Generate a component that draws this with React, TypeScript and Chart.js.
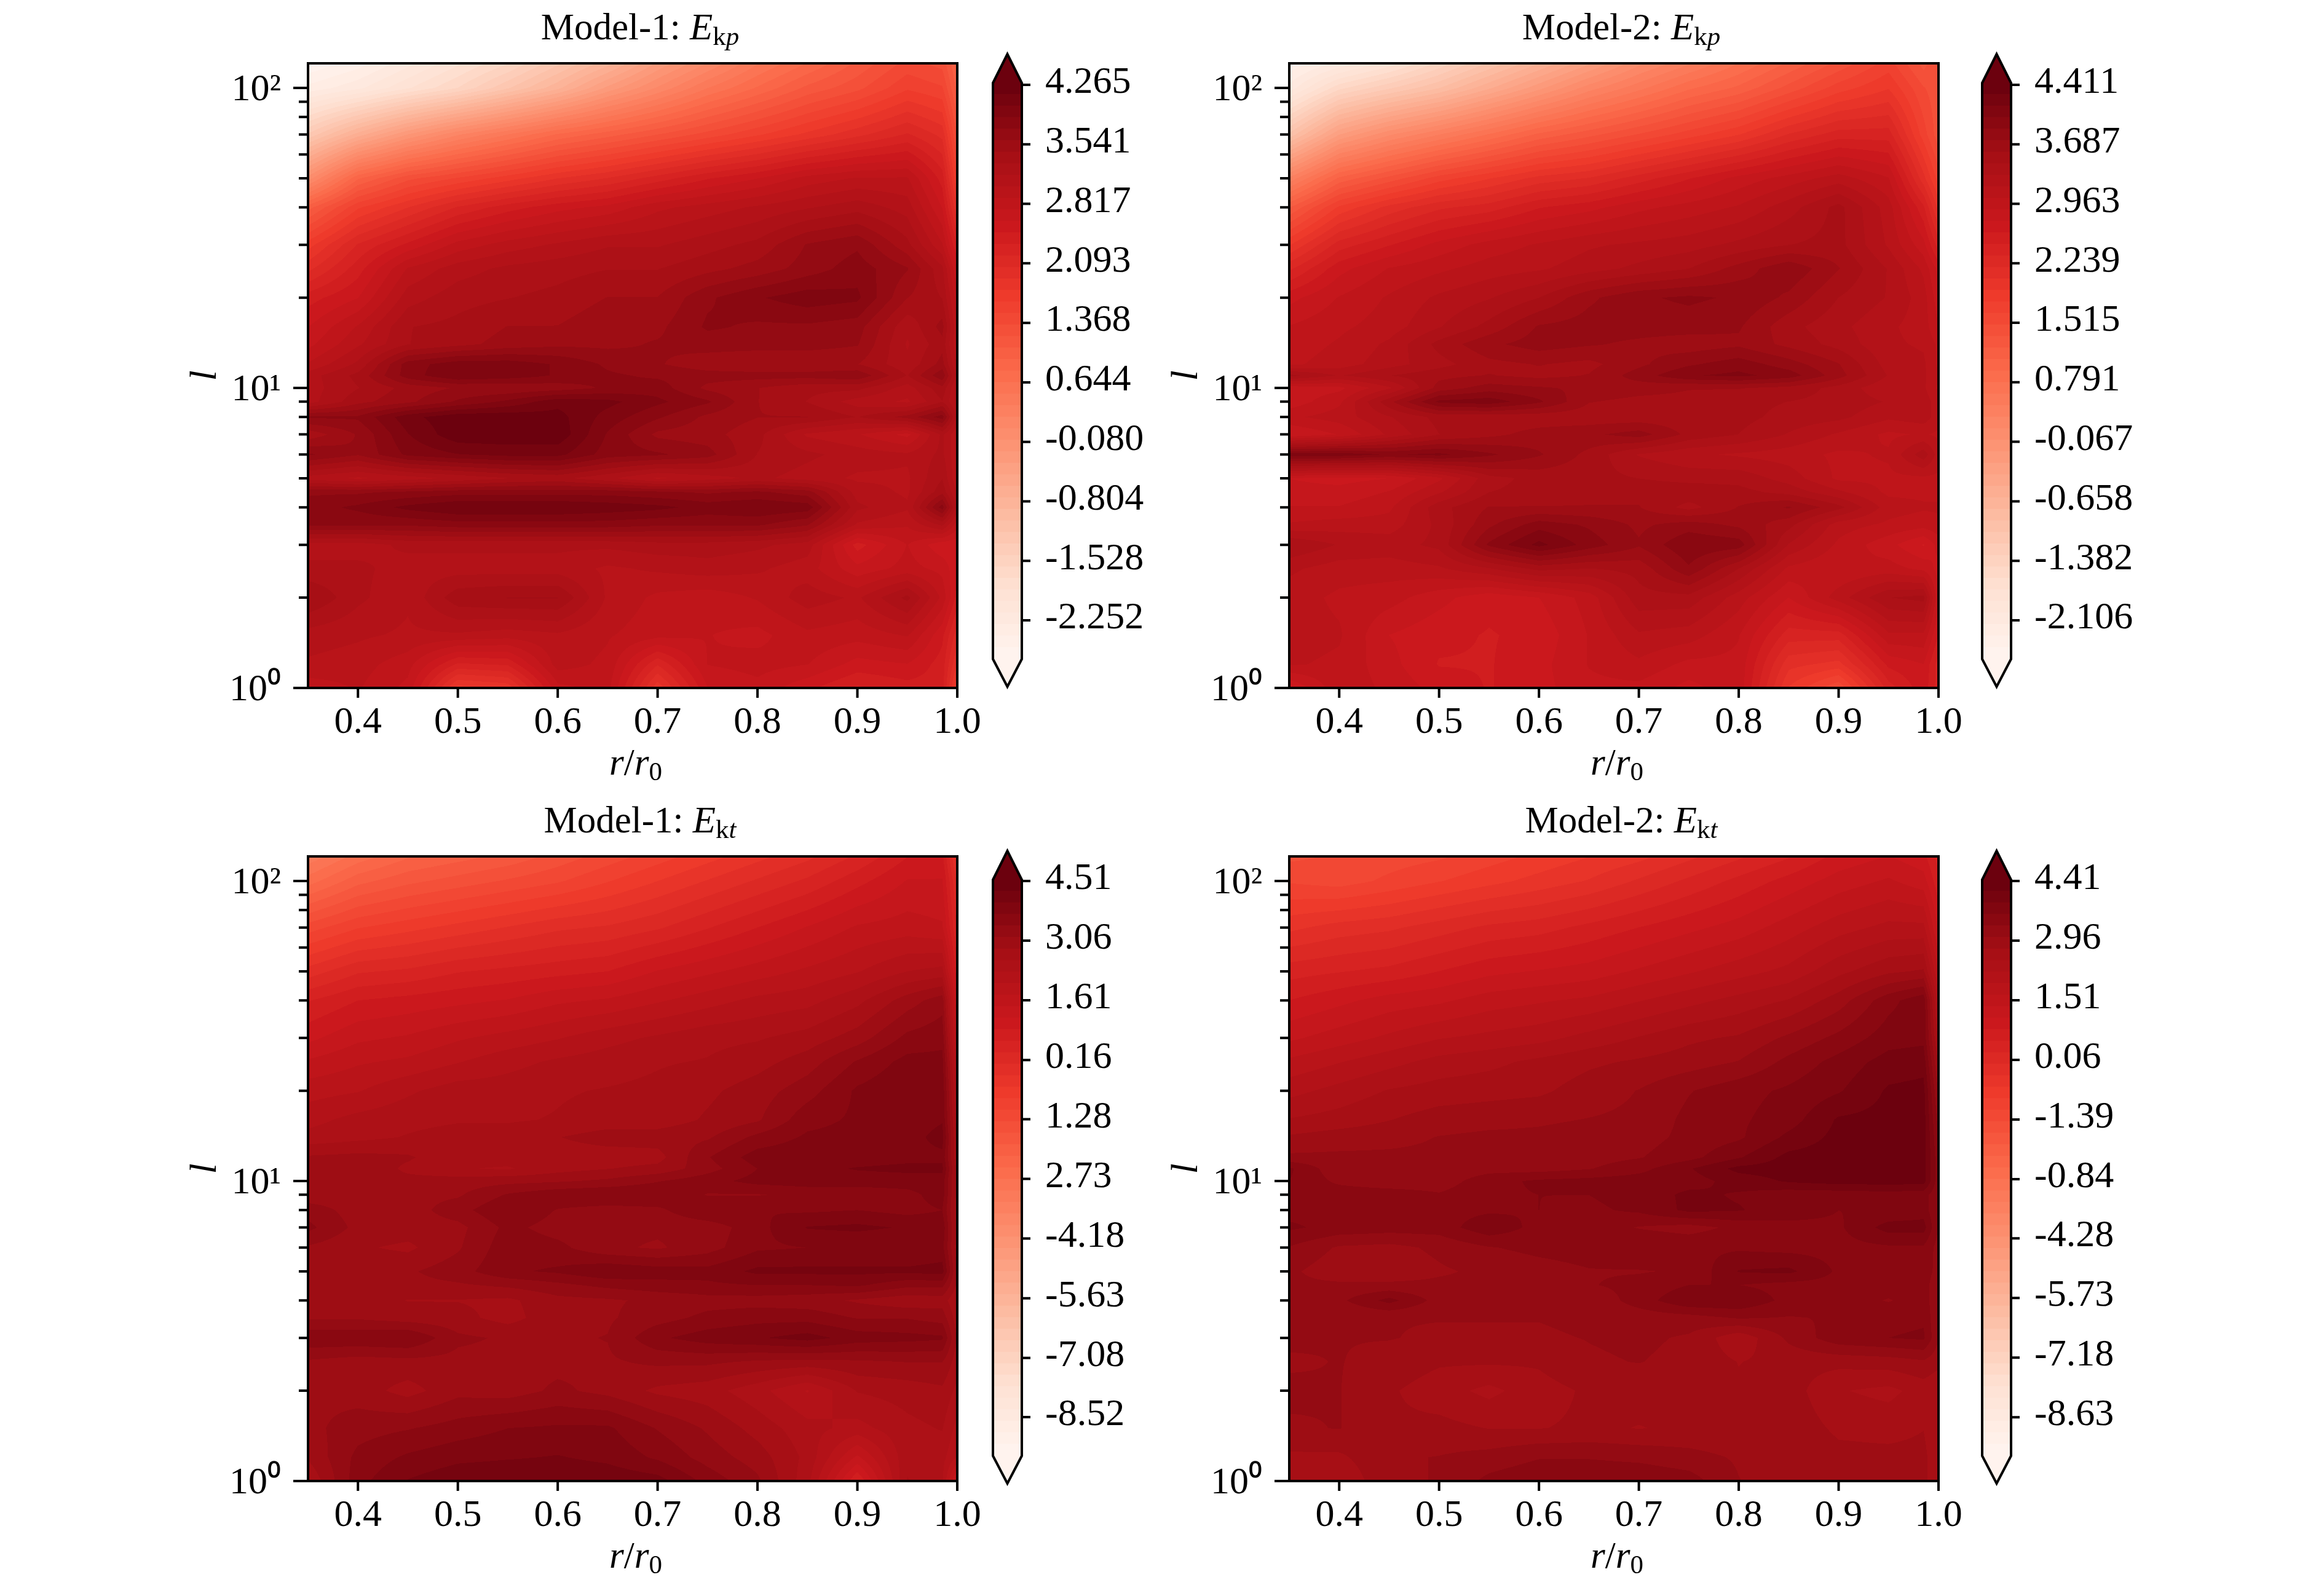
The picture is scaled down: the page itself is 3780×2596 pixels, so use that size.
import React, { useEffect, useRef } from "react";
import { Chart, registerables } from "chart.js";

Chart.register(...registerables);

const FONT = '"Liberation Serif"';
const R_GRID = [0.35, 0.4, 0.45, 0.5, 0.55, 0.6, 0.65, 0.7, 0.75, 0.8, 0.85, 0.9, 0.95, 0.985, 1.0];
const L_GRID = [120, 100, 70, 50, 40, 30, 25, 20, 16, 14, 12, 11, 10, 9, 8, 7, 6, 5, 4.5, 4, 3.5, 3, 2.5, 2, 1.5, 1.2, 1];
const R_TICKS = [0.4, 0.5, 0.6, 0.7, 0.8, 0.9, 1.0];
const L_MAJOR = [1, 10, 100];
const L_MINOR = [2, 3, 4, 5, 6, 7, 8, 9, 20, 30, 40, 50, 60, 70, 80, 90];
const L_LABELS: Record<number, string> = { 1: "10\u2070", 10: "10\u00B9", 100: "10\u00B2" };

const M1_KP = [
  [-2.7,-2.5,-2.2,-1.9,-1.6,-1.2,-.8,-.3,.1,.5,.8,1.1,1.4,1.3,.9],
  [-2.4,-2.2,-1.9,-1.6,-1.2,-.8,-.3,.1,.5,.8,1.1,1.3,1.6,1.5,1.0],
  [-1.3,-.7,-.2,.2,.5,.8,1,1.2,1.4,1.6,1.8,2,2.2,2.0,1.3],
  [0,.9,1.3,1.5,1.7,1.9,2.05,2.25,2.45,2.6,2.8,2.9,2.9,2.4,1.6],
  [1,1.6,1.9,2.2,2.4,2.55,2.65,2.85,2.95,3.05,3.15,3.25,3.1,2.6,1.9],
  [1.7,2.2,2.5,2.8,2.95,3.05,3.15,3.15,3.25,3.35,3.6,3.7,3.35,2.9,2.3],
  [2,2.4,2.9,3.1,3.2,3.25,3.3,3.3,3.4,3.5,3.65,3.8,3.6,3.2,2.6],
  [2.4,2.6,3.1,3.25,3.3,3.35,3.45,3.45,3.7,3.85,3.95,3.9,3.45,3.3,2.8],
  [2.6,2.9,3.3,3.35,3.45,3.45,3.55,3.55,3.75,3.7,3.7,3.65,3.2,3.5,2.9],
  [2.7,3,3.3,3.4,3.5,3.55,3.55,3.6,3.65,3.65,3.65,3.6,3.15,3.4,2.9],
  [2.9,3.2,3.8,3.95,3.95,3.85,3.7,3.6,3.5,3.45,3.45,3.45,3.2,3.5,3],
  [3.1,3.35,3.8,4.0,3.95,3.85,3.75,3.7,3.65,3.65,3.65,3.7,3.3,3.7,3.1],
  [3.1,3.3,3.5,3.6,3.6,3.65,3.75,3.8,3.55,3.45,3.35,3.35,3.1,3.4,3],
  [3.1,3.4,3.55,3.75,3.9,4.1,4.05,3.9,3.75,3.45,3.3,3.1,3,3.3,3],
  [3.75,3.75,4.1,4.25,4.25,4.2,3.95,3.75,3.55,3.45,3.45,3.3,3.5,3.8,3.1],
  [3.35,3.6,4,4.25,4.25,4.25,3.85,3.55,3.5,3.35,3,2.9,2.7,3.2,2.9],
  [3.75,3.6,3.9,4.0,4.05,4.05,3.8,3.75,3.65,3.3,3.2,3.1,3.05,3.2,2.9],
  [3.1,3,3.1,3.2,3.3,3.35,3.2,3,3.1,3.2,3.1,3,3,3.3,2.9],
  [3.7,3.7,3.75,3.8,3.8,3.8,3.8,3.75,3.7,3.75,3.65,3.1,3,3.4,3],
  [3.8,3.9,4.05,4.15,4.15,4.15,4.1,4.05,3.95,4,3.95,3.2,3.05,3.8,3.1],
  [3.75,3.75,3.75,3.8,3.8,3.8,3.8,3.75,3.75,3.75,3.6,3,2.9,3.2,2.8],
  [3.1,3.1,3.2,3.2,3.2,3.2,3.2,3.25,3.25,3.2,3.1,2.4,2.75,2.5,2.5],
  [3.2,3.2,3.1,3.1,3.1,3.1,3,3.05,3.1,3.05,2.95,2.65,2.8,2.7,2.5],
  [3.45,3.2,3.05,3.4,3.45,3.45,3,2.85,2.8,2.9,3.1,3,3.35,2.85,2.4],
  [3.1,3.05,3,3,2.95,3,2.9,2.8,2.75,2.7,2.85,2.8,2.9,2.5,2.1],
  [3,2.95,2.8,2.3,2.35,2.95,2.85,2.2,2.75,2.8,2.75,2.55,2.6,2.4,1.9],
  [2.8,2.9,2.7,1.7,1.8,2.7,2.8,1.8,2.6,2.7,2.5,2.3,2.4,2.4,1.6],
];

const M2_KP = [
  [-2.4,-2.1,-1.8,-1.4,-1.0,-.6,-.2,.2,.5,.8,1.1,1.4,1.7,1.3,1.5],
  [-2.1,-1.5,-1.2,-.9,-.5,-.1,.3,.6,.9,1.1,1.4,1.7,1.9,1.5,1.4],
  [-1.0,-.2,.2,.5,.8,1.1,1.3,1.5,1.7,1.9,2.2,2.4,2.4,1.7,1.4],
  [.4,1.1,1.4,1.7,1.9,2.1,2.2,2.4,2.6,2.8,2.95,3.1,2.9,2.1,1.7],
  [1.2,1.8,2.1,2.3,2.4,2.6,2.7,2.85,2.95,3.05,3.25,3.5,3.1,2.5,2.0],
  [1.9,2.4,2.6,2.8,2.95,3.05,3.15,3.2,3.25,3.35,3.45,3.5,3.15,2.8,2.4],
  [2.3,2.7,2.9,3.0,3.1,3.15,3.25,3.35,3.45,3.65,3.85,3.6,3.3,3.0,2.7],
  [2.7,2.9,3.05,3.2,3.3,3.45,3.7,3.85,3.9,3.85,3.7,3.45,3.3,3.1,2.8],
  [2.9,3.0,3.1,3.3,3.5,3.75,3.8,3.8,3.8,3.75,3.5,3.35,3.2,3.1,2.9],
  [2.95,3.05,3.2,3.5,3.7,3.8,3.75,3.7,3.65,3.7,3.55,3.4,3.2,3.15,3],
  [3.0,3.1,3.25,3.4,3.55,3.6,3.55,3.7,3.85,3.95,3.8,3.6,3.25,3.2,3],
  [3.5,3.3,3.45,3.55,3.6,3.55,3.6,3.8,4.0,4.05,3.95,3.65,3.3,3.2,3.05],
  [2.8,2.85,3.15,3.65,3.8,3.75,3.7,3.65,3.6,3.6,3.55,3.4,3.2,3.2,3.0],
  [2.8,3.0,3.55,4.05,4.1,3.9,3.6,3.55,3.55,3.5,3.45,3.4,3.3,3.25,3.1],
  [3.0,3.1,3.3,3.5,3.5,3.5,3.5,3.5,3.5,3.5,3.4,3.35,3.2,3.25,3.1],
  [2.75,2.9,3.2,3.45,3.55,3.65,3.7,3.8,3.55,3.45,3.3,3.15,3.0,3.05,3.0],
  [4.1,4.1,4.0,4.05,3.9,3.75,3.55,3.3,3.2,3.15,3.1,3.0,3.05,3.4,3.1],
  [2.75,2.7,2.75,3.0,3.4,3.5,3.5,3.45,3.4,3.4,3.25,3.0,3.0,3.0,3.0],
  [2.8,2.8,2.9,3.15,3.45,3.5,3.55,3.55,3.55,3.5,3.4,3.2,3.0,3.0,3.0],
  [2.9,2.9,3.0,3.4,3.6,3.6,3.6,3.6,3.4,3.6,3.75,3.5,3.1,3.05,3.05],
  [3.05,3.1,3.1,3.35,3.7,3.95,3.85,3.7,3.8,3.7,3.5,3.1,3.0,2.95,3.0],
  [3.45,3.3,3.25,3.35,3.9,4.2,3.95,3.75,4.0,3.95,3.3,3.0,2.8,2.6,2.8],
  [3.2,3.1,3.1,3.15,3.3,3.5,3.45,3.5,3.85,3.45,3.0,2.9,2.95,2.85,2.7],
  [3.1,3.0,2.95,2.8,2.65,2.75,2.95,3.4,3.4,3.1,2.75,3.1,3.45,3.5,2.75],
  [3.1,3.05,2.75,2.65,2.6,2.65,2.9,3.15,3.1,2.9,2.4,2.4,3.0,3.0,2.6],
  [3.05,3.0,2.8,2.6,2.6,2.7,2.9,3.0,2.85,2.85,2.1,2.0,2.65,2.75,2.4],
  [2.6,3.0,2.85,2.7,2.6,2.7,2.85,2.85,2.7,2.85,1.9,1.5,2.4,2.7,2.4],
];

const M1_KT = [
  [-3.2,-2.6,-2.2,-2.0,-1.8,-1.5,-1.2,-.9,-.6,-.3,0,.4,.9,1.0,-.4],
  [-2.6,-2.0,-1.7,-1.5,-1.3,-1.1,-.8,-.5,-.2,.1,.4,.8,1.2,1.2,0],
  [-1.2,-.8,-.6,-.4,-.2,0,.1,.3,.6,.9,1.2,1.5,1.6,1.5,.3],
  [-.1,.3,.4,.6,.7,.8,.9,1.2,1.4,1.6,1.8,2.0,2.3,2.4,.7],
  [.6,.9,1.0,1.1,1.2,1.4,1.5,1.7,1.9,2.1,2.2,2.5,3.0,3.3,1.2],
  [1.1,1.4,1.5,1.7,1.85,2.0,2.2,2.35,2.5,2.55,2.7,3.0,3.5,3.6,1.6],
  [1.5,1.7,1.8,2.0,2.2,2.35,2.45,2.55,2.6,2.75,3.0,3.45,3.8,3.8,1.9],
  [1.9,2.0,2.25,2.45,2.45,2.55,2.6,2.65,2.8,3.0,3.3,3.75,3.95,3.9,2.2],
  [2.2,2.4,2.5,2.55,2.55,2.6,2.7,2.7,2.9,3.1,3.6,3.75,3.8,3.95,2.4],
  [2.4,2.5,2.6,2.7,2.7,2.85,3.0,3.0,3.1,3.5,3.75,3.8,3.85,4.1,2.5],
  [2.9,2.95,2.9,2.65,2.7,2.7,2.7,2.75,3.4,3.85,3.9,3.85,3.9,3.9,2.6],
  [3.05,3.1,2.8,2.6,2.55,2.75,2.85,2.95,3.3,3.7,3.9,4.0,4.05,4.05,2.7],
  [2.9,2.9,2.95,3.0,3.05,3.1,3.2,3.4,3.6,3.8,3.85,3.85,3.85,3.85,2.7],
  [2.95,3.0,3.05,3.1,3.45,3.65,3.7,3.7,3.4,3.4,3.5,3.5,3.6,3.85,2.7],
  [3.3,3.0,3.0,3.3,3.7,3.4,3.3,3.35,3.7,3.7,3.65,3.7,3.6,3.7,2.7],
  [3.5,3.05,3.0,3.05,3.5,3.3,3.2,3.2,3.25,3.6,4.0,4.05,3.95,3.9,2.7],
  [3.1,2.9,2.8,3.1,3.6,3.5,3.2,3.1,3.3,3.65,3.7,3.7,3.7,3.8,2.7],
  [3.05,3.1,3.1,3.3,3.65,3.75,3.95,3.85,3.8,4.05,4.05,4.05,4.05,4.1,2.8],
  [3.0,3.05,3.05,3.1,3.2,3.35,3.5,3.6,3.65,3.7,3.7,3.75,3.5,3.5,2.8],
  [3.05,3.0,2.85,2.85,2.8,3.05,3.1,3.2,3.3,3.3,3.25,3.1,2.95,3.0,2.6],
  [3.1,3.1,3.0,2.95,2.75,3.05,3.1,3.3,3.5,3.6,3.6,3.4,3.4,3.3,2.7],
  [3.65,3.65,3.7,3.2,3.1,3.1,3.15,3.65,3.85,3.95,4.1,3.85,3.8,3.75,2.8],
  [3.1,3.0,3.05,3.05,3.05,3.05,3.1,3.2,3.2,3.1,3.05,3.1,3.15,3.15,2.7],
  [3.1,3.0,2.75,3.05,3.0,3.2,3.05,2.8,2.7,2.4,2.0,2.6,2.7,2.8,2.5],
  [3.05,3.3,3.4,3.55,3.7,3.75,3.75,3.4,3.1,2.75,2.4,2.2,2.5,2.6,2.2],
  [2.9,3.5,3.75,3.9,3.95,4.0,3.9,3.65,3.3,3.0,2.5,1.4,2.5,2.4,2.0],
  [2.6,3.6,4.0,4.2,4.25,4.25,4.2,4.1,3.6,3.2,2.4,.6,2.6,2.35,1.0],
];

const M2_KT = [
  [-1.5,-1.4,-1.3,-1.2,-1.0,-.8,-.6,-.4,-.1,.2,.5,.9,1.1,.9,.4],
  [-1.2,-1.3,-1.1,-.9,-.7,-.5,-.3,0,.3,.6,.9,1.2,1.4,1.2,.6],
  [-.4,-.2,-.1,.1,.3,.4,.6,.8,1,1.2,1.5,1.8,2.0,2.0,1.0],
  [.4,.5,.6,.8,1,1.1,1.2,1.4,1.6,1.8,2.0,2.4,2.7,2.8,1.6],
  [.8,1.0,1.2,1.3,1.5,1.6,1.7,1.9,2.1,2.3,2.5,2.9,3.5,3.8,2.0],
  [1.3,1.5,1.7,1.9,2.0,2.1,2.3,2.5,2.7,2.8,3.1,3.4,3.75,3.8,2.4],
  [1.7,1.9,2.1,2.3,2.4,2.55,2.7,2.8,2.9,3.05,3.4,3.7,4.0,4.05,2.7],
  [2.1,2.3,2.5,2.6,2.65,2.7,2.9,3.05,3.3,3.5,3.65,3.85,4.2,4.25,3.0],
  [2.5,2.6,2.75,2.9,2.95,3.0,3.05,3.1,3.4,3.55,3.75,4.2,4.25,4.3,3.2],
  [2.8,2.9,2.95,3.05,3.1,3.1,3.15,3.2,3.4,3.55,3.95,4.25,4.25,4.3,3.3],
  [3.1,3.1,3.1,3.1,3.15,3.2,3.2,3.3,3.5,3.85,4.25,4.3,4.3,4.3,3.4],
  [3.65,3.1,3.1,3.1,3.2,3.2,3.3,3.5,3.85,4.25,4.3,4.3,4.3,4.3,3.4],
  [3.6,3.25,3.1,3.15,3.5,3.65,3.7,3.75,3.75,4.0,4.2,4.3,4.3,4.3,3.4],
  [3.45,3.5,3.5,3.35,3.55,3.6,3.6,3.7,3.95,3.85,3.7,3.7,3.75,3.7,3.4],
  [3.5,3.55,3.55,3.5,3.55,3.6,3.55,3.65,3.95,3.9,3.75,3.6,3.65,3.75,3.3],
  [3.65,3.5,3.45,3.45,3.8,3.5,3.5,3.3,3.2,3.4,3.5,3.55,4.0,4.0,3.3],
  [3.3,3.0,2.95,3.1,3.3,3.4,3.45,3.6,3.55,3.55,3.5,3.5,3.55,3.55,3.2],
  [3.1,2.85,2.85,3.0,3.1,3.2,3.3,3.3,3.35,3.9,3.95,3.55,3.5,3.5,3.2],
  [3.1,3.1,3.1,3.1,3.1,3.2,3.3,3.4,3.6,3.6,3.5,3.5,3.45,3.45,3.1],
  [3.1,3.25,3.7,3.2,3.05,3.05,3.1,3.45,3.85,3.85,3.5,3.45,3.3,3.45,3.1],
  [3.05,3.05,3.05,3.05,3.05,3.05,3.1,3.15,3.2,3.35,3.3,3.35,3.5,3.55,3.05],
  [3.1,3.05,3.05,3.0,3.0,3.0,3.05,3.1,3.0,2.55,3.1,3.5,3.6,3.65,3.05],
  [3.0,3.05,2.95,2.8,2.8,2.8,3.0,3.05,2.95,2.75,2.85,2.85,2.9,3.0,2.85],
  [3.1,3.05,2.8,2.6,2.4,2.65,2.8,2.85,2.8,2.8,2.9,2.5,2.4,2.6,2.5],
  [3.0,3.05,2.8,2.85,2.75,2.75,2.8,2.75,2.8,2.8,2.95,2.7,2.65,2.75,2.5],
  [2.7,2.7,3.0,3.05,3.15,3.3,3.3,3.25,3.15,3.0,3.0,2.85,2.85,2.85,2.5],
  [2.6,2.5,3.0,3.05,3.4,3.55,3.55,3.55,3.45,3.05,2.85,2.85,2.85,2.85,2.5],
];

const TICKS_M1_KP = [4.265, 3.541, 2.817, 2.093, 1.368, 0.644, -0.08, -0.804, -1.528, -2.252];
const LABELS_M1_KP = ["4.265", "3.541", "2.817", "2.093", "1.368", "0.644", "-0.080", "-0.804", "-1.528", "-2.252"];
const TICKS_M2_KP = [4.411, 3.687, 2.963, 2.239, 1.515, 0.791, 0.067, -0.658, -1.382, -2.106];
const LABELS_M2_KP = ["4.411", "3.687", "2.963", "2.239", "1.515", "0.791", "-0.067", "-0.658", "-1.382", "-2.106"];
const TICKS_M1_KT = [4.51, 3.06, 1.61, 0.16, -1.28, -2.73, -4.18, -5.63, -7.08, -8.52];
const LABELS_M1_KT = ["4.51", "3.06", "1.61", "0.16", "1.28", "2.73", "-4.18", "-5.63", "-7.08", "-8.52"];
const TICKS_M2_KT = [4.41, 2.96, 1.51, 0.06, -1.39, -2.84, -4.28, -5.73, -7.18, -8.63];
const LABELS_M2_KT = ["4.41", "2.96", "1.51", "0.06", "-1.39", "-0.84", "-4.28", "-5.73", "-7.18", "-8.63"];

const REDS = ["#fff5f0", "#fee0d2", "#fcbba1", "#fc9272", "#fb6a4a", "#ef3b2c", "#cb181d", "#a50f15", "#67000d"];
const LEVEL_COUNT = 50;

function reds(t: number): [number, number, number] {
  const p = Math.max(0, Math.min(1, t)) * (REDS.length - 1);
  const i = Math.min(REDS.length - 2, Math.floor(p));
  const f = p - i;
  const c = (h: string) => [1, 3, 5].map((k) => parseInt(h.slice(k, k + 2), 16));
  const a = c(REDS[i]);
  const b = c(REDS[i + 1]);
  return [0, 1, 2].map((k) => Math.round(a[k] + (b[k] - a[k]) * f)) as [number, number, number];
}
const LUT = Array.from({ length: LEVEL_COUNT }, (_, i) => reds((i + 0.5) / LEVEL_COUNT));
const css = (c: number[]) => `rgb(${c[0]},${c[1]},${c[2]})`;

type Seg = { t: string; it?: boolean; small?: boolean };
function drawRich(ctx: CanvasRenderingContext2D, segs: Seg[], cx: number, base: number, size: number) {
  const fnt = (s: Seg) => `${s.it ? "italic " : ""}${s.small ? Math.round(size * 0.7) : size}px ${FONT}`;
  let w = 0;
  for (const s of segs) {
    ctx.font = fnt(s);
    w += ctx.measureText(s.t).width;
  }
  let x = cx - w / 2;
  ctx.fillStyle = "#000";
  ctx.textAlign = "left";
  ctx.textBaseline = "alphabetic";
  for (const s of segs) {
    ctx.font = fnt(s);
    ctx.fillText(s.t, x, base + (s.small ? size * 0.15 : 0));
    x += ctx.measureText(s.t).width;
  }
}

const XLABEL: Seg[] = [{ t: "r", it: true }, { t: "/" }, { t: "r", it: true }, { t: "0", small: true }];

const contourPlugin = {
  id: "contour",
  beforeDatasetsDraw(chart: any) {
    const { ctx, chartArea: a, scales } = chart;
    const ds = chart.data.datasets[0];
    const { vmin, vmax, cols, rows } = ds.meta;
    const pts = ds.data;
    const xs: number[] = [];
    for (let c = 0; c < cols; c++) xs.push(scales.x.getPixelForValue(pts[c].x));
    const ys: number[] = [];
    for (let r = 0; r < rows; r++) ys.push(scales.y.getPixelForValue(pts[r * cols].y));
    const x0 = Math.round(a.left);
    const y0 = Math.round(a.top);
    const W = Math.round(a.right) - x0;
    const H = Math.round(a.bottom) - y0;
    const img = ctx.createImageData(W, H);
    const d = img.data;
    const colIdx = new Int32Array(W);
    const colF = new Float64Array(W);
    let ci = 0;
    for (let i = 0; i < W; i++) {
      const px = x0 + i + 0.5;
      while (ci < cols - 2 && px > xs[ci + 1]) ci++;
      colIdx[i] = ci;
      colF[i] = Math.max(0, Math.min(1, (px - xs[ci]) / (xs[ci + 1] - xs[ci])));
    }
    let ri = 0;
    for (let j = 0; j < H; j++) {
      const py = y0 + j + 0.5;
      while (ri < rows - 2 && py > ys[ri + 1]) ri++;
      const fy = Math.max(0, Math.min(1, (py - ys[ri]) / (ys[ri + 1] - ys[ri])));
      for (let i = 0; i < W; i++) {
        const c = colIdx[i];
        const fx = colF[i];
        const v00 = pts[ri * cols + c].v;
        const v01 = pts[ri * cols + c + 1].v;
        const v10 = pts[(ri + 1) * cols + c].v;
        const v11 = pts[(ri + 1) * cols + c + 1].v;
        const v = (v00 * (1 - fx) + v01 * fx) * (1 - fy) + (v10 * (1 - fx) + v11 * fx) * fy;
        const k = Math.max(0, Math.min(LEVEL_COUNT - 1, Math.floor(((v - vmin) / (vmax - vmin)) * LEVEL_COUNT)));
        const col = LUT[k];
        const o = (j * W + i) * 4;
        d[o] = col[0];
        d[o + 1] = col[1];
        d[o + 2] = col[2];
        d[o + 3] = 255;
      }
    }
    ctx.putImageData(img, x0, y0);
  },
  afterDraw(chart: any) {
    const { ctx, chartArea: a, scales } = chart;
    const ds = chart.data.datasets[0];
    ctx.save();
    ctx.strokeStyle = "#000";
    ctx.lineWidth = 4;
    ctx.strokeRect(a.left, a.top, a.right - a.left, a.bottom - a.top);
    ctx.beginPath();
    for (const t of scales.x.ticks) {
      const p = scales.x.getPixelForValue(t.value);
      ctx.moveTo(p, a.bottom);
      ctx.lineTo(p, a.bottom + 16);
    }
    for (const t of scales.y.ticks) {
      const p = scales.y.getPixelForValue(t.value);
      ctx.moveTo(a.left, p);
      ctx.lineTo(a.left - (t.major ? 24 : 15), p);
    }
    ctx.stroke();
    drawRich(ctx, ds.meta.title, a.left + 540, a.top - 39, 61);
    drawRich(ctx, XLABEL, a.left + 533, a.bottom + 141, 61);
    ctx.restore();
  },
};

const barPlugin = {
  id: "colorbarFrame",
  afterDatasetsDraw(chart: any) {
    const { ctx, chartArea: a, scales } = chart;
    const tipUp = 47;
    const tipDown = 45;
    const mid = (a.left + a.right) / 2;
    ctx.save();
    ctx.fillStyle = css(LUT[LEVEL_COUNT - 1]);
    ctx.beginPath();
    ctx.moveTo(a.left, a.top);
    ctx.lineTo(mid, a.top - tipUp);
    ctx.lineTo(a.right, a.top);
    ctx.closePath();
    ctx.fill();
    ctx.fillStyle = css(LUT[0]);
    ctx.beginPath();
    ctx.moveTo(a.left, a.bottom);
    ctx.lineTo(mid, a.bottom + tipDown);
    ctx.lineTo(a.right, a.bottom);
    ctx.closePath();
    ctx.fill();
    ctx.strokeStyle = "#000";
    ctx.lineWidth = 4;
    ctx.lineJoin = "miter";
    ctx.beginPath();
    ctx.moveTo(a.left, a.top);
    ctx.lineTo(mid, a.top - tipUp);
    ctx.lineTo(a.right, a.top);
    ctx.lineTo(a.right, a.bottom);
    ctx.lineTo(mid, a.bottom + tipDown);
    ctx.lineTo(a.left, a.bottom);
    ctx.closePath();
    ctx.stroke();
    ctx.beginPath();
    for (const t of scales.y.ticks) {
      const p = scales.y.getPixelForValue(t.value);
      ctx.moveTo(a.right, p);
      ctx.lineTo(a.right + 14, p);
    }
    ctx.stroke();
    ctx.restore();
  },
};

const AXES_W = 1056;
const AXES_H = 1016;
const MARGIN_L = 240;
const MARGIN_T = 100;
const MARGIN_B = 180;
const MARGIN_R = 60;

function Contour({ left, top, grid, vmin, vmax, title }: any) {
  const ref = useRef<HTMLCanvasElement>(null);
  useEffect(() => {
    const points: any[] = [];
    L_GRID.forEach((l, r) => R_GRID.forEach((x, c) => points.push({ x, y: l, v: grid[r][c] })));
    const chart = new Chart(ref.current!, {
      type: "scatter",
      data: {
        datasets: [
          {
            data: points,
            pointRadius: 0,
            showLine: false,
            meta: { vmin, vmax, cols: R_GRID.length, rows: L_GRID.length, title },
          } as any,
        ],
      },
      options: {
        responsive: false,
        animation: false,
        devicePixelRatio: 1,
        layout: { padding: { top: MARGIN_T, right: MARGIN_R, left: 0, bottom: 0 } },
        plugins: { legend: { display: false }, tooltip: { enabled: false }, title: { display: false } },
        scales: {
          x: {
            type: "linear",
            min: 0.35,
            max: 1.0,
            grid: { display: false },
            border: { display: false },
            afterBuildTicks: (s: any) => {
              s.ticks = R_TICKS.map((value) => ({ value }));
            },
            afterFit: (s: any) => {
              s.height = MARGIN_B;
              s.paddingLeft = 0;
              s.paddingRight = 0;
            },
            ticks: {
              autoSkip: false,
              maxRotation: 0,
              padding: 12,
              color: "#000",
              font: { family: FONT, size: 62 },
              callback: (v: any) => Number(v).toFixed(1),
            },
          },
          y: {
            type: "logarithmic",
            min: 1,
            max: 120.8,
            grid: { display: false },
            border: { display: false },
            afterBuildTicks: (s: any) => {
              s.ticks = [
                ...L_MAJOR.map((value) => ({ value, major: true })),
                ...L_MINOR.map((value) => ({ value, major: false })),
              ];
            },
            afterFit: (s: any) => {
              s.width = MARGIN_L;
              s.paddingTop = 0;
              s.paddingBottom = 0;
            },
            title: {
              display: true,
              text: "l",
              color: "#000",
              font: { family: FONT, size: 62, style: "italic" },
              padding: { top: 37, bottom: 0 },
            },
            ticks: {
              autoSkip: false,
              padding: 36,
              labelOffset: 4,
              color: "#000",
              font: { family: FONT, size: 62 },
              callback: (v: any) => L_LABELS[v as number] ?? "",
            },
          },
        },
      } as any,
      plugins: [contourPlugin],
    });
    return () => chart.destroy();
  }, []);
  const w = MARGIN_L + AXES_W + MARGIN_R;
  const h = MARGIN_T + AXES_H + MARGIN_B;
  return (
    <canvas
      ref={ref}
      width={w}
      height={h}
      style={{ position: "absolute", left: left - MARGIN_L, top: top - MARGIN_T, width: w, height: h }}
    />
  );
}

const BAR_W = 47;
const BAR_PAD = 60;
const BAR_RIGHT_SPACE = 240;

function Colorbar({ left, top, vmin, vmax, ticks, labels, bodyH }: any) {
  const ref = useRef<HTMLCanvasElement>(null);
  useEffect(() => {
    const step = (vmax - vmin) / LEVEL_COUNT;
    const datasets = LUT.map((c, i) => ({
      data: [[vmin + i * step, vmin + (i + 1) * step + step * 0.02]],
      backgroundColor: css(c),
      borderWidth: 0,
      barPercentage: 1,
      categoryPercentage: 1,
      grouped: false,
    }));
    const chart = new Chart(ref.current!, {
      type: "bar",
      data: { labels: [""], datasets },
      options: {
        responsive: false,
        animation: false,
        devicePixelRatio: 1,
        layout: { padding: { top: BAR_PAD, bottom: BAR_PAD, left: 10, right: 0 } },
        plugins: { legend: { display: false }, tooltip: { enabled: false } },
        scales: {
          x: { display: false, stacked: false },
          y: {
            position: "right",
            min: vmin,
            max: vmax,
            grid: { display: false },
            border: { display: false },
            afterBuildTicks: (s: any) => {
              s.ticks = ticks.map((value: number) => ({ value }));
            },
            afterFit: (s: any) => {
              s.width = BAR_RIGHT_SPACE;
              s.paddingTop = 0;
              s.paddingBottom = 0;
            },
            ticks: {
              autoSkip: false,
              padding: 30,
              labelOffset: -3,
              color: "#000",
              font: { family: FONT, size: 62 },
              callback: (v: any) => labels[ticks.indexOf(v)] ?? "",
            },
          },
        },
      } as any,
      plugins: [barPlugin],
    });
    return () => chart.destroy();
  }, []);
  const w = 10 + BAR_W + BAR_RIGHT_SPACE;
  const h = BAR_PAD * 2 + bodyH;
  return (
    <canvas
      ref={ref}
      width={w}
      height={h}
      style={{ position: "absolute", left: left - 10, top: top - BAR_PAD, width: w, height: h }}
    />
  );
}

const T_KP_1: Seg[] = [{ t: "Model-1: " }, { t: "E", it: true }, { t: "k", small: true }, { t: "p", it: true, small: true }];
const T_KP_2: Seg[] = [{ t: "Model-2: " }, { t: "E", it: true }, { t: "k", small: true }, { t: "p", it: true, small: true }];
const T_KT_1: Seg[] = [{ t: "Model-1: " }, { t: "E", it: true }, { t: "k", small: true }, { t: "t", it: true, small: true }];
const T_KT_2: Seg[] = [{ t: "Model-2: " }, { t: "E", it: true }, { t: "k", small: true }, { t: "t", it: true, small: true }];

export default function App() {
  useEffect(() => {
    document.body.style.margin = "0";
    document.body.style.background = "#fff";
  }, []);
  return (
    <div style={{ position: "absolute", left: 0, top: 0, width: 3780, height: 2596, overflow: "hidden", background: "#fff" }}>
      <Contour left={501} top={103} grid={M1_KP} vmin={-2.723} vmax={4.287} title={T_KP_1} />
      <Colorbar left={1615} top={135} bodyH={937} vmin={-2.723} vmax={4.287} ticks={TICKS_M1_KP} labels={LABELS_M1_KP} />
      <Contour left={2097} top={103} grid={M2_KP} vmin={-2.577} vmax={4.433} title={T_KP_2} />
      <Colorbar left={3224} top={135} bodyH={937} vmin={-2.577} vmax={4.433} ticks={TICKS_M2_KP} labels={LABELS_M2_KP} />
      <Contour left={501} top={1393} grid={M1_KT} vmin={-9.46} vmax={4.54} title={T_KT_1} />
      <Colorbar left={1615} top={1431} bodyH={937} vmin={-9.46} vmax={4.54} ticks={TICKS_M1_KT} labels={LABELS_M1_KT} />
      <Contour left={2097} top={1393} grid={M2_KT} vmin={-9.57} vmax={4.44} title={T_KT_2} />
      <Colorbar left={3224} top={1431} bodyH={937} vmin={-9.57} vmax={4.44} ticks={TICKS_M2_KT} labels={LABELS_M2_KT} />
    </div>
  );
}
